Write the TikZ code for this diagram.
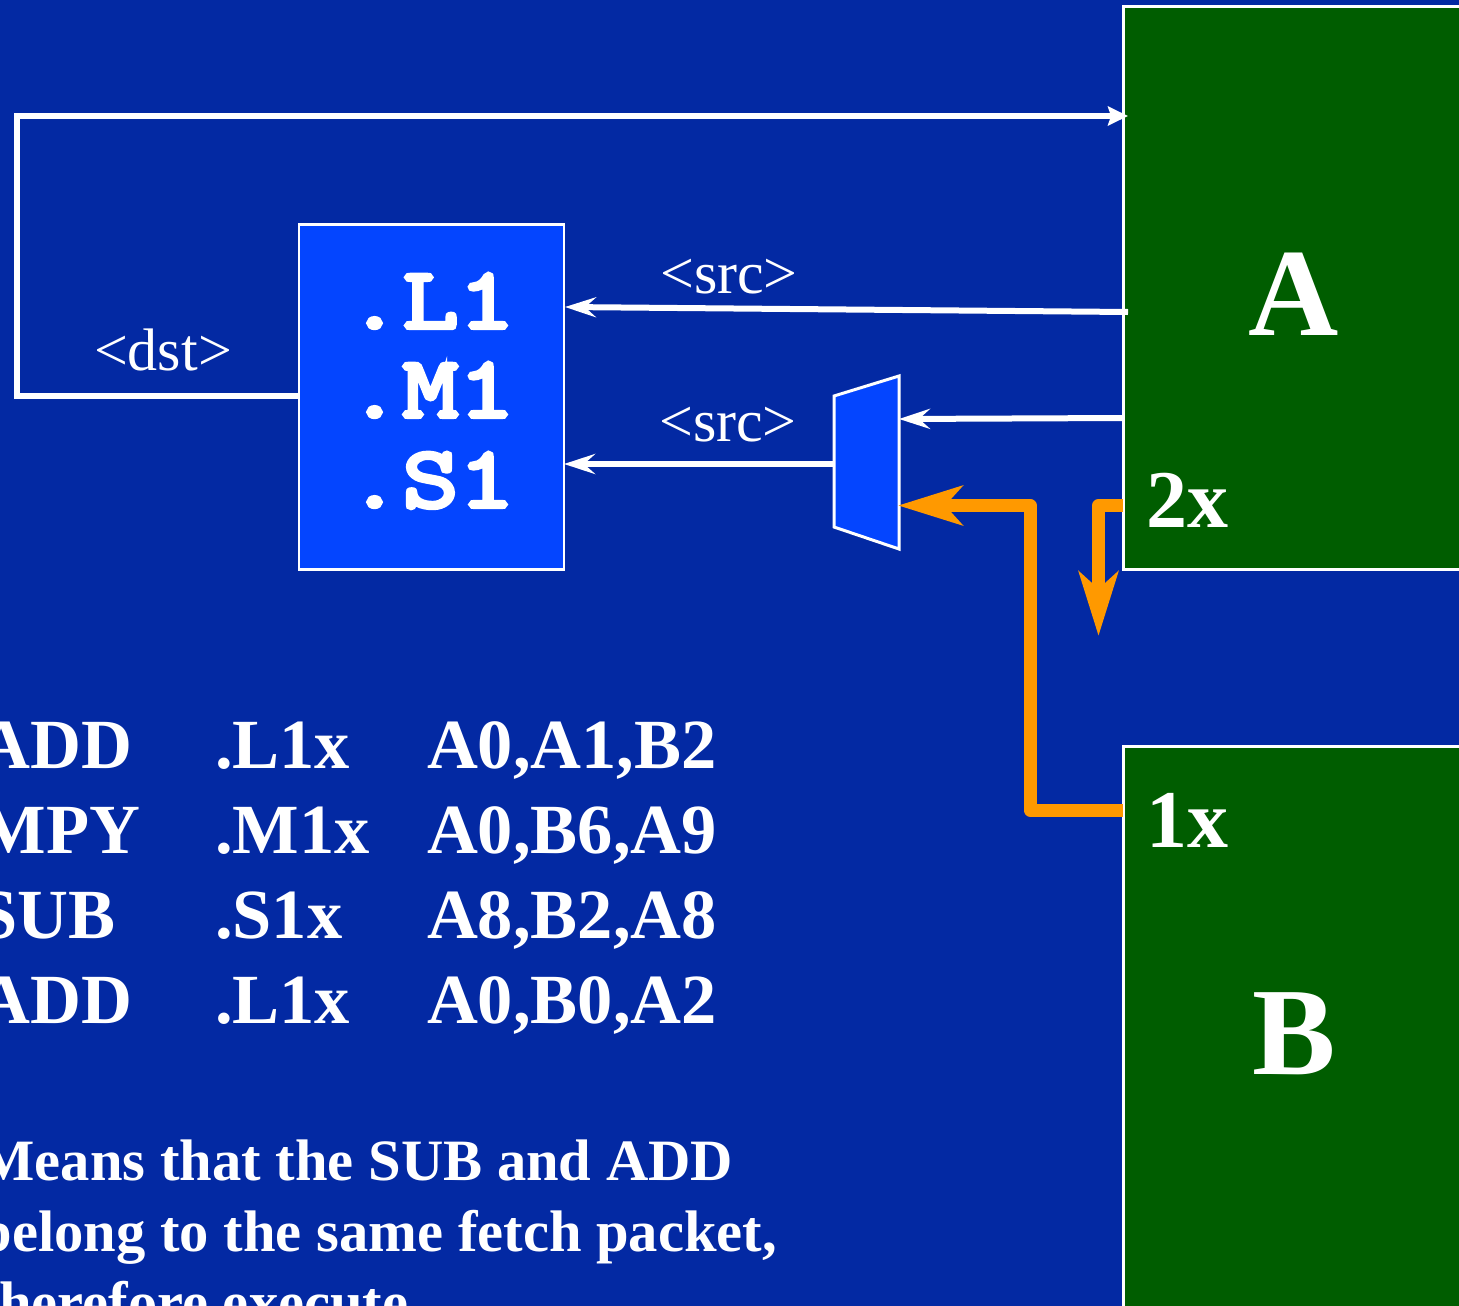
\documentclass[tikz,border=0pt]{standalone}
\usepackage{fontspec}
\setmainfont{Liberation Serif}
\newfontfamily\unitfont[FakeBold=5,FakeStretch=1.25]{Latin Modern Mono}
\usetikzlibrary{arrows.meta}
\definecolor{bgblue}{RGB}{3,41,163}
\definecolor{regreen}{RGB}{0,93,0}
\definecolor{fublue}{RGB}{4,69,255}
\definecolor{pathorange}{RGB}{255,153,0}
\newcommand{\fs}[1]{\fontsize{#1pt}{#1pt}\selectfont}
\tikzset{
  x=1pt,y=-1pt,
  every node/.style={inner sep=0pt,outer sep=0pt,text=white},
  regbox/.style={draw=white,line width=3pt,fill=regreen,anchor=north west,minimum width=500pt},
  fubox/.style={draw=white,line width=2.5pt,fill=fublue,anchor=north west,minimum width=265pt,minimum height=345pt},
  whitewire/.style={draw=white,line width=6pt,-{Stealth[length=31pt,width=20pt,inset=11pt]}},
  orangewire/.style={draw=pathorange,line width=13pt,line join=round,-{Stealth[length=64pt,width=39pt,inset=17pt]}},
  tabletext/.style={anchor=base west,font=\bfseries\fs{70.5}},
  notetext/.style={anchor=base west,font=\bfseries\fs{58.6}},
  unittext/.style={anchor=base west,font=\unitfont\fs{87}},
  srctext/.style={anchor=base,font=\fs{60}},
  bigtext/.style={anchor=base,font=\bfseries\fs{125}},
  porttext/.style={anchor=base west,font=\bfseries\fs{82}},
}
\begin{document}
\begin{tikzpicture}
\useasboundingbox (0,0) rectangle (1459,1306);
\clip (0,0) rectangle (1459,1306);
\fill[bgblue] (0,0) rectangle (1459,1306);

% register files
\node[regbox,minimum height=562pt] (rega) at (1123,7) {};
\node[regbox,minimum height=600pt] (regb) at (1123,746) {};
\node[bigtext] (la) at (1294,335) {A};
\node[bigtext] (lb) at (1294,1074) {B};
\node[porttext] (p2x) at (1146,527) {2x};
\node[porttext] (p1x) at (1146,847) {1x};

% functional unit
\node[fubox] (fu) at (299,224.5) {};
\node[unittext] (ul) at (346.5,328) {.L1};
\node[unittext] (um) at (346.5,417) {.M1};
\node[unittext] (us) at (346.5,507) {.S1};

% mux
\coordinate (mxa) at (834,396);
\coordinate (mxb) at (899,376);
\coordinate (mxc) at (899,549);
\coordinate (mxd) at (834,527);
\filldraw[fill=fublue,draw=white,line width=3pt,line join=miter] (mxa) -- (mxb) -- (mxc) -- (mxd) -- cycle;

% anchors for connectors
\coordinate (dstout) at (299,396);
\coordinate (dstc1) at (17,396);
\coordinate (dstc2) at (17,116);
\coordinate (dstin) at (1128,116);
\coordinate (src1a) at (1128,312);
\coordinate (src1b) at (565,307);
\coordinate (src2a) at (1123,418);
\coordinate (src2b) at (899,419);
\coordinate (muxout) at (834,464);
\coordinate (fuin) at (564,464);
\coordinate (x1a) at (1123,810);
\coordinate (x1b) at (1030,810);
\coordinate (x1c) at (1030,505.5);
\coordinate (x1d) at (898,505.5);
\coordinate (x2a) at (1123,505.5);
\coordinate (x2b) at (1098.5,505.5);
\coordinate (x2c) at (1098.5,636);

% connectors
\draw[draw=white,line width=6pt,line join=miter,-{Stealth[length=20pt,width=19pt,inset=3pt]}] (dstout) -- (dstc1) -- (dstc2) -- (dstin);
\draw[whitewire] (src1a) -- (src1b);
\draw[whitewire] (src2a) -- (src2b);
\draw[whitewire] (muxout) -- (fuin);
\draw[orangewire] (x1a) -- (x1b) -- (x1c) -- (x1d);
\draw[orangewire] (x2a) -- (x2b) -- (x2c);

% labels
\node[srctext] (s1) at (729,293) {<src>};
\node[srctext] (s2) at (728,441) {<src>};
\node[srctext] (d1) at (163,370) {<dst>};

% table
\node[tabletext] (t11) at (-20.5,768) {ADD};
\node[tabletext] (t12) at (215,768) {.L1x};
\node[tabletext] (t13) at (427,768) {A0,A1,B2};
\node[tabletext] (t21) at (-20.5,853) {MPY};
\node[tabletext] (t22) at (215,853) {.M1x};
\node[tabletext] (t23) at (427,853) {A0,B6,A9};
\node[tabletext] (t31) at (-21.5,938) {SUB};
\node[tabletext] (t32) at (215,938) {.S1x};
\node[tabletext] (t33) at (427,938) {A8,B2,A8};
\node[tabletext] (t41) at (-20.5,1023) {ADD};
\node[tabletext] (t42) at (215,1023) {.L1x};
\node[tabletext] (t43) at (427,1023) {A0,B0,A2};

% note
\node[notetext] (n1) at (-20.5,1180) {Means that the SUB and ADD};
\node[notetext] (n2) at (-20.5,1251) {belong to the same fetch packet,};
\node[notetext] (n3) at (-20.5,1322) {therefore execute};
\end{tikzpicture}
\end{document}
